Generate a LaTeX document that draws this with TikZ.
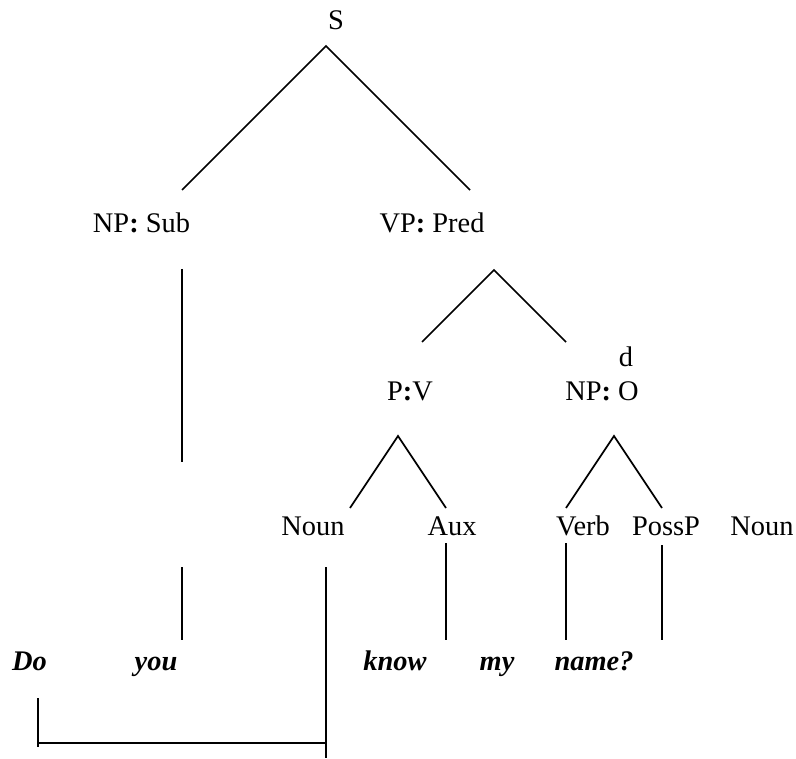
\documentclass[tikz,border=0pt]{standalone}
\usepackage{fontspec}
\setmainfont{Liberation Serif}
\begin{document}
\begin{tikzpicture}[x=1pt,y=-1pt,
  lab/.style={anchor=base,inner sep=0pt,font=\fontsize{28.4}{34}\selectfont},
  word/.style={lab,font=\fontsize{28.4}{34}\selectfont\bfseries\itshape},
  edge/.style={line width=1.7pt}]
\useasboundingbox (0,0) rectangle (796,759);
% labels
\node[lab] (S) at (336,30) {S};
\node[lab] (NPSub) at (141.5,233) {NP\textbf{:} Sub};
\node[lab] (VPPred) at (432,233) {VP\textbf{:} Pred};
\node[lab] (PV) at (410,401) {P\textbf{:}V};
\node[lab] (dsub) at (626,367) {d};
\node[lab] (NPO) at (602,401) {NP\textbf{:} O};
\node[lab] (NounA) at (313,536) {Noun};
\node[lab] (Aux) at (452,536) {Aux};
\node[lab] (Verb) at (583,536) {Verb};
\node[lab] (PossP) at (666,536) {PossP};
\node[lab] (NounB) at (762,536) {Noun};
\node[word] (Do) at (29.5,670) {Do};
\node[word] (you) at (156,670) {you};
\node[word] (know) at (395,670) {know};
\node[word] (my) at (497,670) {my};
\node[word] (name) at (594,670) {name?};
% connector end points
\coordinate (sA) at (326,46);
\coordinate (sL) at (182,190);
\coordinate (sR) at (470,190);
\coordinate (subA) at (182,269);
\coordinate (subB) at (182,462);
\coordinate (subC) at (182,567);
\coordinate (subD) at (182,640);
\coordinate (vpA) at (494,270);
\coordinate (vpL) at (422,342);
\coordinate (vpR) at (566,342);
\coordinate (pvA) at (398,436);
\coordinate (pvL) at (350,508);
\coordinate (pvR) at (446,508);
\coordinate (npoA) at (614,436);
\coordinate (npoL) at (566,508);
\coordinate (npoR) at (662,508);
\coordinate (nounT) at (326,567);
\coordinate (nounB) at (326,758);
\coordinate (brR) at (326,743);
\coordinate (brL) at (38,743);
\coordinate (brLb) at (38,747);
\coordinate (doT) at (38,698);
\coordinate (auxT) at (446,543);
\coordinate (auxB) at (446,640);
\coordinate (verbT) at (566,543);
\coordinate (verbB) at (566,640);
\coordinate (possT) at (662,545);
\coordinate (possB) at (662,640);
% connectors
\draw[edge] (sL) -- (sA) -- (sR);
\draw[edge] (subA) -- (subB);
\draw[edge] (subC) -- (subD);
\draw[edge] (vpL) -- (vpA) -- (vpR);
\draw[edge] (pvL) -- (pvA) -- (pvR);
\draw[edge] (npoL) -- (npoA) -- (npoR);
\draw[edge] (nounT) -- (nounB);
\draw[edge] (doT) -- (brLb);
\draw[edge] (brL) -- (brR);
\draw[edge] (auxT) -- (auxB);
\draw[edge] (verbT) -- (verbB);
\draw[edge] (possT) -- (possB);
\end{tikzpicture}
\end{document}
